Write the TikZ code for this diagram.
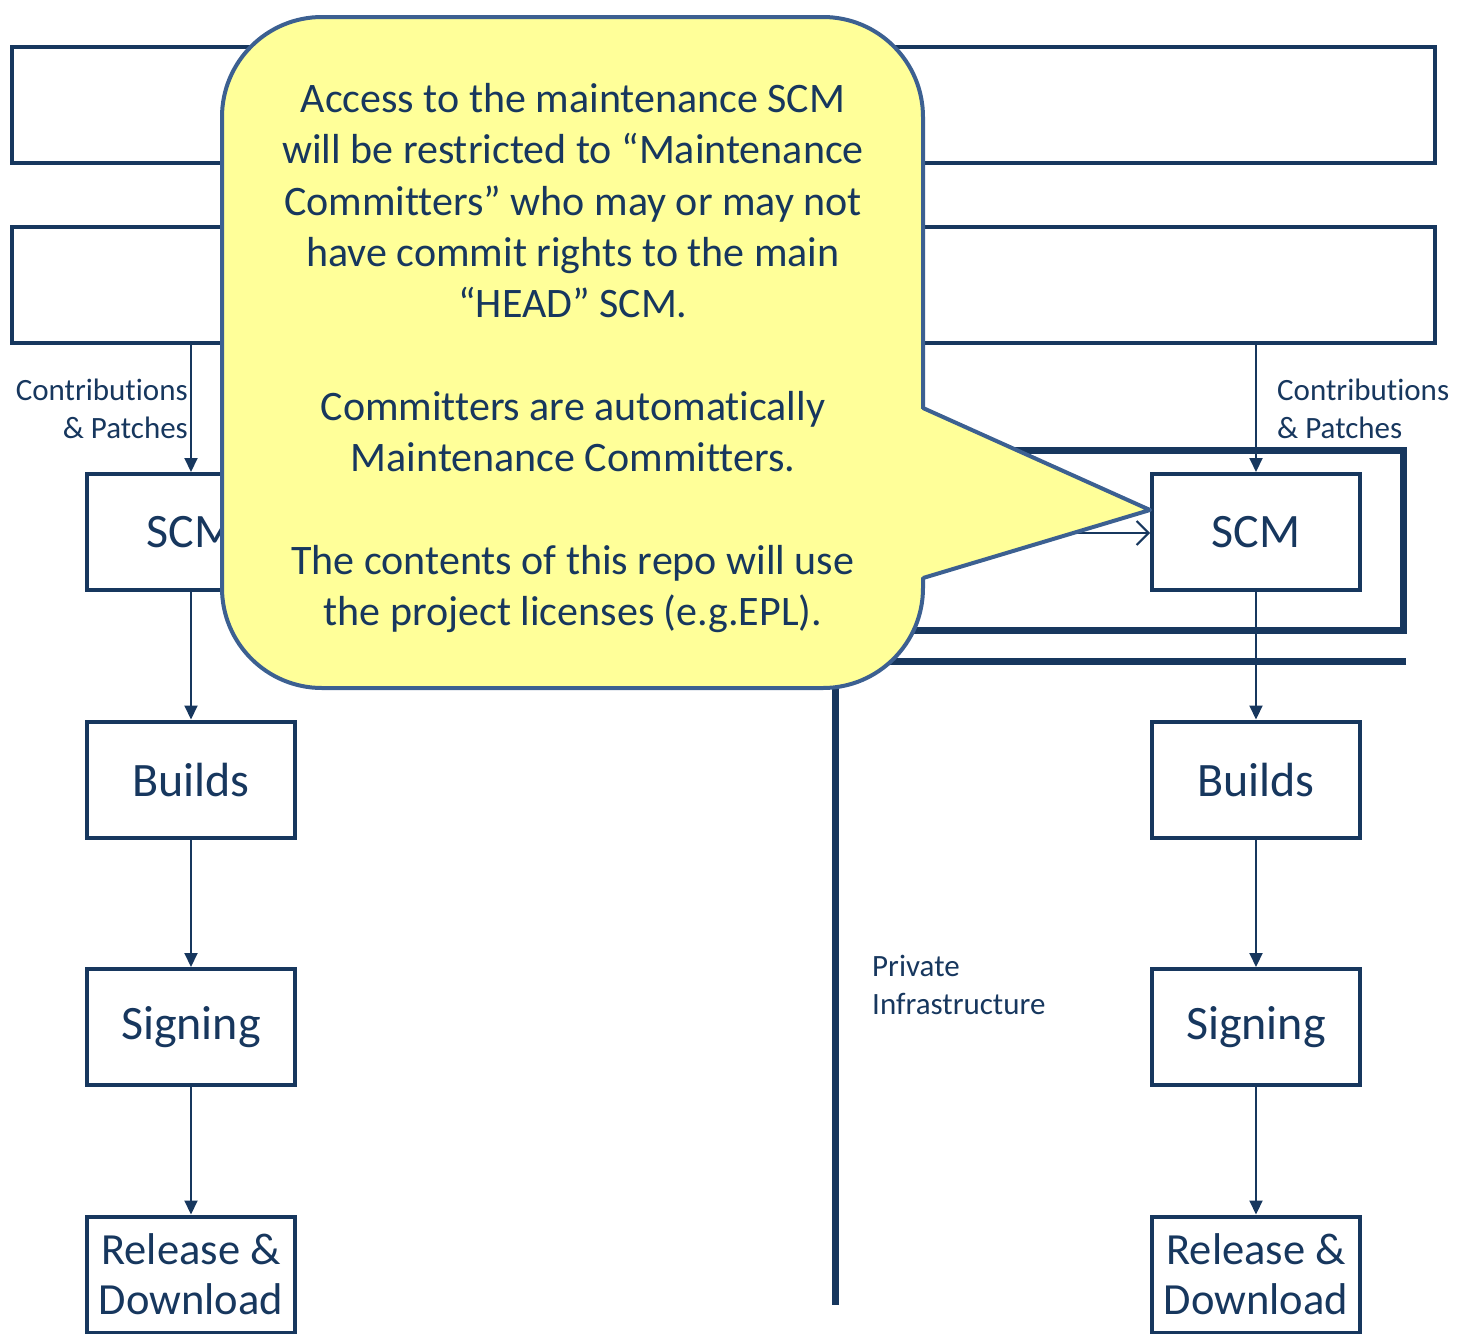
\documentclass[tikz,border=0pt]{standalone}
\usepackage{fontspec}
\setmainfont{Carlito}[Ligatures={TeX,NoCommon,NoRequired,NoContextual},
                      Contextuals=NoAlternate]
\usetikzlibrary{positioning,arrows.meta}

\definecolor{navy}{RGB}{23,55,94}
\definecolor{noteline}{RGB}{60,96,145}
\definecolor{notefill}{RGB}{255,255,153}

\tikzset{band/.style = {draw=navy, line width=4pt, minimum width=1423pt,
                        minimum height=116pt, inner sep=0pt},
         stage/.style = {draw=navy, line width=4pt, fill=white, text=navy,
                         minimum width=208pt, minimum height=116pt, inner sep=0pt,
                         align=center, font=\fontsize{48}{50}\selectfont},
         flow/.style = {draw=navy, line width=2pt,
                        -{Triangle[length=14pt,width=13pt]}},
         feed/.style = {draw=navy, line width=2pt,
                        -{Straight Barb[length=12pt,width=24pt,line width=2pt]}},
         wall/.style = {draw=navy, line width=7pt},
         small/.style = {text=navy, inner sep=0pt, font=\fontsize{31}{38}\selectfont},
         note/.style = {draw=noteline, fill=notefill, line width=4pt,
                        rounded corners=100pt, minimum width=701pt,
                        minimum height=671pt},
         notetext/.style = {text=navy, align=center, inner sep=0pt,
                            font=\fontsize{42}{51.3}\selectfont}
        }

\begin{document}
\begin{tikzpicture}[x=1pt, y=-1pt, node distance=127.5pt]
  \useasboundingbox (0,0) rectangle (1460,1334);

  % two wide bands at the top
  \node[band] (bandA) at (723.5,105) {};
  \node[band] (bandB) at (723.5,285) {};

  % left column
  \node[stage] (scmL) at (191,532) {SCM};
  \node[stage, below=of scmL] (buildsL) {Builds};
  \node[stage, below=of buildsL] (signL) {Signing};
  \node[stage, below=of signL, font=\fontsize{44.5}{50}\selectfont] (relL) {Release \&\\Download};

  % right column
  \node[stage] (scmR) at (1256,532) {SCM};
  \node[stage, below=of scmR] (buildsR) {Builds};
  \node[stage, below=of buildsR] (signR) {Signing};
  \node[stage, below=of signR, font=\fontsize{44.5}{50}\selectfont] (relR) {Release \&\\Download};

  \foreach \side in {L,R}{
    \draw[flow] (scm\side |- bandB.south) -- (scm\side);
    \draw[flow] (scm\side) -- (builds\side);
    \draw[flow] (builds\side) -- (sign\side);
    \draw[flow] (sign\side) -- (rel\side);
  }

  \node[small, anchor=east, align=right] (contribL) at (188,409) {Contributions\\\& Patches};
  \node[small, anchor=west, align=left] (contribR) at (1277,409) {Contributions\\\& Patches};

  % private side
  \draw[wall] (860,450) rectangle (1403,630);
  \draw[wall] (1406,661) -- (835,661) -- (835,1305);
  \node[small, anchor=west, align=left] (private) at (872,985) {Private\\Infrastructure};

  \coordinate (feedin) at (1000,533);
  \draw[feed] (feedin) -- (feedin -| scmR.west);

  % callout
  \node[note] (callout) at (572.5,352.5) {};
  \coordinate (tip) at ([yshift=22pt]scmR.west);
  \coordinate (baseA) at (923,408);
  \coordinate (baseB) at (923,578);
  \fill[notefill] ([xshift=-4pt]baseA) -- (tip) -- ([xshift=-4pt]baseB) -- cycle;
  \draw[noteline, line width=4pt, line join=round] (baseA) -- (tip) -- (baseB);
  \node[notetext] (calloutText) at (573,358) {Access to the maintenance SCM\\
    will be restricted to \textquotedblleft Maintenance\\
    Committers\textquotedblright{} who may or may not\\
    have commit rights to the main\\
    \textquotedblleft HEAD\textquotedblright{} SCM.\\[51.3pt]
    Committers are automatically\\
    Maintenance Committers.\\[51.3pt]
    The contents of this repo will use\\
    the project licenses (e.g.EPL).};
\end{tikzpicture}
\end{document}
